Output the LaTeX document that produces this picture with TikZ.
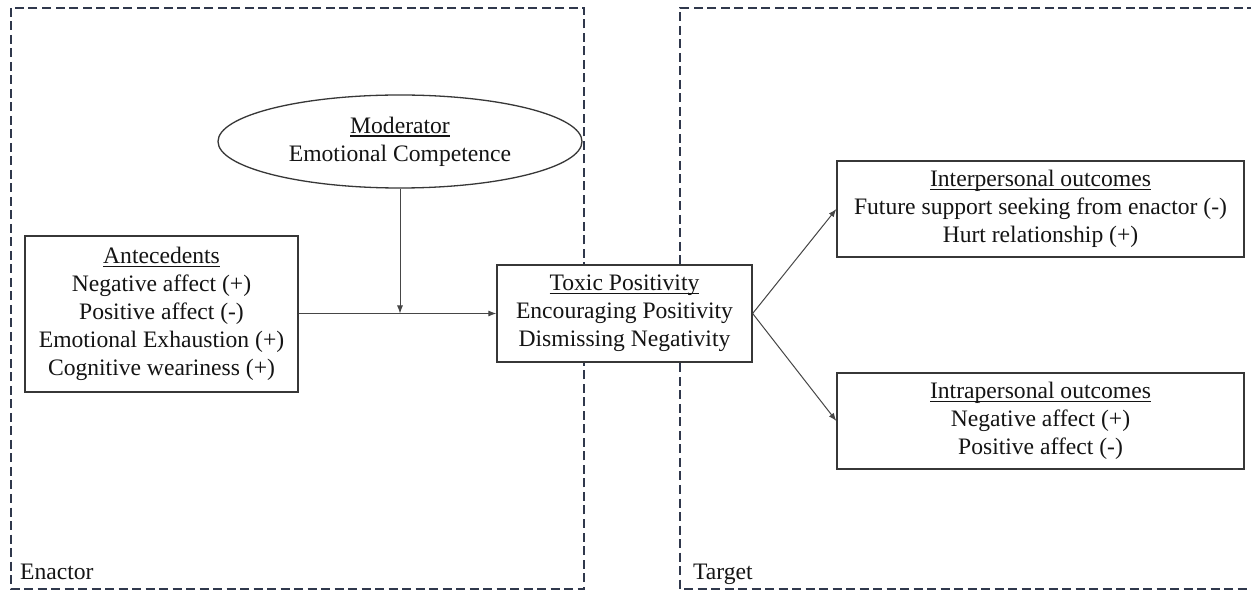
\documentclass[tikz,border=0pt]{standalone}
\usepackage{fontspec}
\setmainfont{Liberation Serif}
\usetikzlibrary{shapes.geometric,arrows.meta}
\definecolor{dashcol}{RGB}{48,56,76}
\definecolor{boxcol}{RGB}{55,55,55}
\definecolor{linecol}{RGB}{70,70,70}
\definecolor{txtcol}{RGB}{20,20,20}
\newcommand{\myul}[1]{\setbox0\hbox{#1}\rlap{\rule[-3.5pt]{\wd0}{1.2pt}}\box0}
\tikzset{
  basefont/.style={font=\fontsize{23.6}{28}\selectfont, text=txtcol},
  boxnode/.style={basefont, draw=boxcol, fill=white, line width=1.3pt, rectangle, align=center, inner sep=0pt},
  ellnode/.style={basefont, draw=boxcol, fill=white, line width=1.3pt, ellipse, align=center, inner sep=0pt},
  zone/.style={draw=dashcol, line width=2pt, dash pattern=on 9pt off 4.5pt},
  conn/.style={draw=linecol, line width=1pt, -{Latex[length=8pt,width=6pt]}},
  zonelabel/.style={basefont, anchor=base west, inner sep=0pt}
}
\begin{document}
\begin{tikzpicture}[x=1pt,y=-1pt]
\useasboundingbox (0,0) rectangle (1251,593);
% zones
\draw[zone] (11,8) rectangle (584,589);
\draw[zone] (1256,8) -- (680,8) -- (680,589) -- (1256,589);
\node[zonelabel] (enactor) at (20,579) {Enactor};
\node[zonelabel] (target) at (693,579) {Target};
% nodes
\node[ellnode, minimum width=364pt, minimum height=93pt] (mod) at (400,141.5)
  {\myul{Moderator}\\Emotional Competence};
\node[boxnode, minimum width=273pt, minimum height=156pt] (ante) at (161.5,314)
  {\myul{Antecedents}\\Negative affect (+)\\Positive affect (-)\\Emotional Exhaustion (+)\\Cognitive weariness (+)};
\node[boxnode, minimum width=255pt, minimum height=97pt] (toxic) at (624.5,313.5)
  {\myul{Toxic Positivity}\\Encouraging Positivity\\Dismissing Negativity};
\node[boxnode, minimum width=407pt, minimum height=96pt] (inter) at (1040.5,209)
  {\myul{Interpersonal outcomes}\\Future support seeking from enactor (-)\\Hurt relationship (+)};
\node[boxnode, minimum width=407pt, minimum height=96pt] (intra) at (1040.5,421)
  {\myul{Intrapersonal outcomes}\\Negative affect (+)\\Positive affect (-)};
% connectors
\coordinate (junction) at (mod.south |- toxic.west);
\draw[conn] (ante.east |- toxic.west) -- (toxic.west);
\draw[conn] (mod.south) -- (junction);
\draw[conn] (toxic.east) -- (inter.west);
\draw[conn] (toxic.east) -- (intra.west);
\end{tikzpicture}
\end{document}
